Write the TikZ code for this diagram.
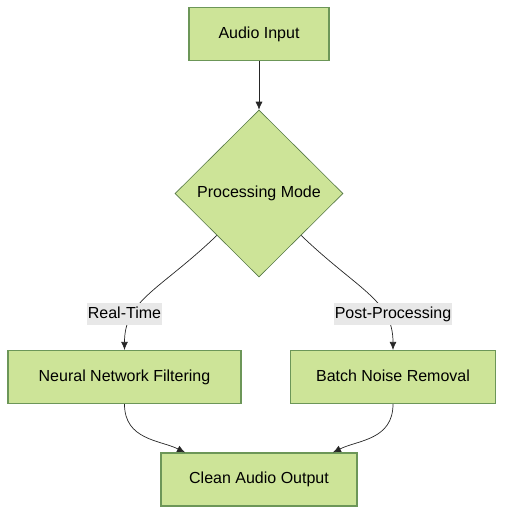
\documentclass[tikz,border=0pt]{standalone}
\usepackage{xcolor}
\usepackage{fontspec}
\setmainfont{Liberation Sans}
\usetikzlibrary{arrows.meta, positioning, shapes.geometric}

\definecolor{leaf}{RGB}{205,228,152}
\definecolor{leafline}{RGB}{108,150,88}
\definecolor{tag}{RGB}{232,232,232}

\tikzset{
	stage/.style={rectangle, draw=leafline, fill=leaf, line width=1.2pt,
		minimum height=53pt, text height=11.5pt, text depth=3.5pt,
		font=\fontsize{16}{19}\selectfont},
	choice/.style={diamond, draw=leafline!80!black, fill=leaf, line width=0.6pt,
		minimum width=168pt, minimum height=167pt, inner sep=0pt,
		text height=11.5pt, text depth=3.5pt, font=\fontsize{16}{19}\selectfont},
	tagbox/.style={rectangle, fill=tag, inner xsep=1pt, minimum height=22pt,
		text height=11.5pt, text depth=3.5pt, font=\fontsize{16}{19}\selectfont},
	flow/.style={-{Latex[length=8pt, width=7pt]}, black!85, line width=0.7pt}
}

\begin{document}
\begin{tikzpicture}[x=1pt, y=-1pt]
			
			\useasboundingbox (0,0) rectangle (512,523);
			
			\node[stage, minimum width=140pt] (input) at (259,34) {Audio Input};
			\node[choice] (mode) at (259,193.5) {Processing Mode};
			\node[stage, minimum width=233pt] (neural) at (124.5,377) {Neural Network Filtering};
			\node[stage, minimum width=205pt] (batch) at (393,377) {Batch Noise Removal};
			\node[stage, minimum width=196pt] (clean) at (259,479.5) {Clean Audio Output};
			
			\draw[flow] (input) -- (mode);
			\draw[flow] (mode.south west) .. controls (160,290) and (124.5,300) .. (neural.north);
			\draw[flow] (mode.south east) .. controls (358,290) and (393,300) .. (batch.north);
			\draw[flow] (neural.south) .. controls (124.5,440) and (160,440) .. ([xshift=-74pt]clean.north);
			\draw[flow] (batch.south) .. controls (393,440) and (358,440) .. ([xshift=74pt]clean.north);
			
			\node[tagbox] (rt) at (124.5,314) {Real-Time};
			\node[tagbox] (pp) at (393,314) {Post-Processing};
		\end{tikzpicture}
\end{document}
